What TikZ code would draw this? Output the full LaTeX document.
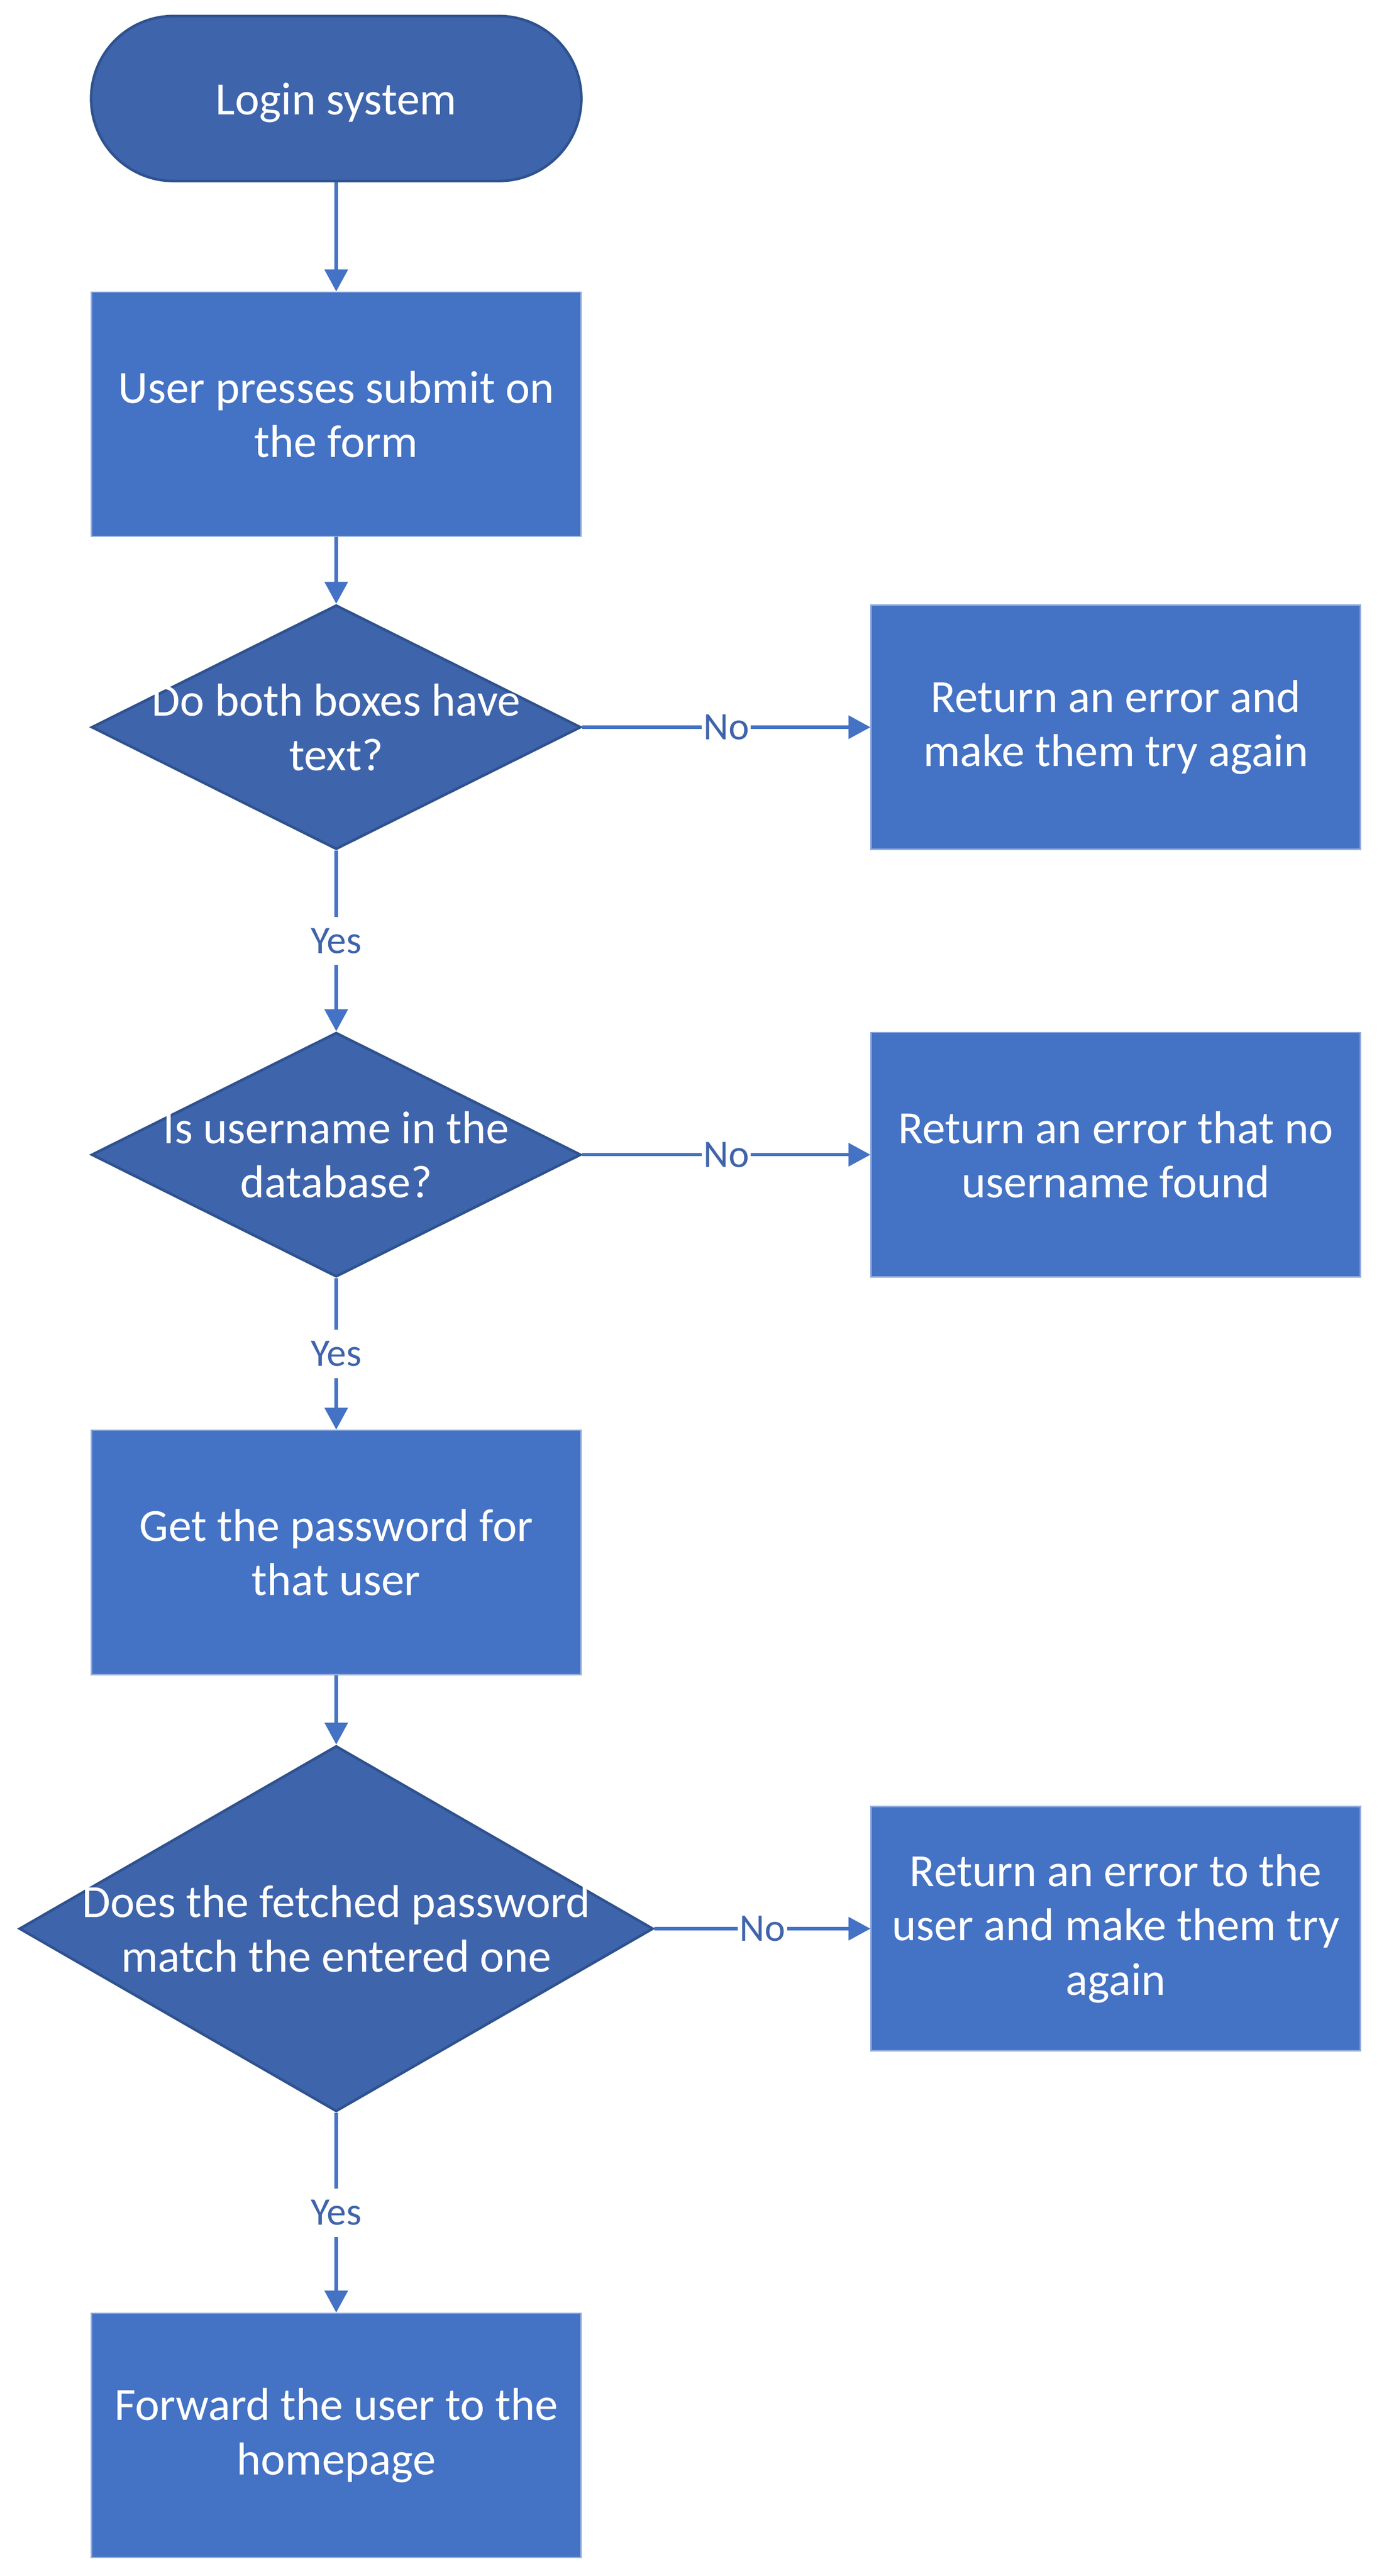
\documentclass[tikz,border=0pt]{standalone}
\usepackage{fontspec}
\setmainfont{Carlito}
\usepackage{tikz}
\usetikzlibrary{shapes.geometric, arrows.meta}
\definecolor{boxblue}{HTML}{4472C4}
\definecolor{darkfill}{HTML}{3E64AC}
\definecolor{edgeblue}{HTML}{2F528F}
\definecolor{labelblue}{HTML}{3F64AB}

\begin{document}
\begin{tikzpicture}[
    txt/.style={text=white, align=center, font=\fontsize{14.1}{16.6}\selectfont},
    box/.style={rectangle, fill=boxblue, draw=boxblue!60!white, line width=0.4pt,
      minimum width=5.255cm, minimum height=2.623cm, inner sep=0pt, txt},
    term/.style={rectangle, rounded corners=0.885cm, fill=darkfill, draw=edgeblue,
      line width=0.8pt, minimum width=5.263cm, minimum height=1.771cm, txt, text depth=0pt},
    dia/.style={diamond, fill=darkfill, draw=edgeblue, line width=0.8pt, inner sep=0pt,
      minimum width=5.255cm, minimum height=2.623cm},
    flow/.style={draw=boxblue, line width=1pt, -{Triangle[width=7pt,length=6.7pt]}},
    lab/.style={fill=white, text=labelblue, inner xsep=0.5pt, inner ysep=3.5pt,
      font=\fontsize{11.9}{14}\selectfont}]
    \useasboundingbox (0,0) rectangle (14.909,27.658);
    \node[term] (11) at (3.61,26.60) {Login system};
    \node[box] (21) at (3.61,23.21) {User presses submit on\\the form};
    \node[dia, label={[txt]center:{Do both boxes have\\text?}}] (31) at (3.61,19.85) {};
    \node[box] (32) at (11.98,19.85) {Return an error and\\make them try again};
    \node[dia, label={[txt]center:{Is username in the\\database?}}] (41) at (3.61,15.26) {};
    \node[box] (42) at (11.98,15.26) {Return an error that no\\username found};
    \node[box] (51) at (3.61,10.99) {Get the password for\\that user};
    \node[dia, minimum width=6.807cm, minimum height=3.926cm,
      label={[txt]center:{Does the fetched password\\match the entered one}}] (61) at (3.61,6.95) {};
    \node[box] (62) at (11.98,6.95) {Return an error to the\\user and make them try\\again};
    \node[box] (71) at (3.61,1.51) {Forward the user to the\\homepage};
    % vertical lines
    \draw[flow] (11) -- (21);
    \draw[flow] (21) -- (31);
    \draw[flow] (31) -- node[lab] {Yes} (41);
    \draw[flow] (41) -- node[lab] {Yes} (51);
    \draw[flow] (51) -- (61);
    \draw[flow] (61) -- node[lab] {Yes} (71);
    % horizontal lines
    \draw[flow] (31) -- node[lab] {No} (32);
    \draw[flow] (41) -- node[lab] {No} (42);
    \draw[flow] (61) -- node[lab] {No} (62);
  \end{tikzpicture}
\end{document}
